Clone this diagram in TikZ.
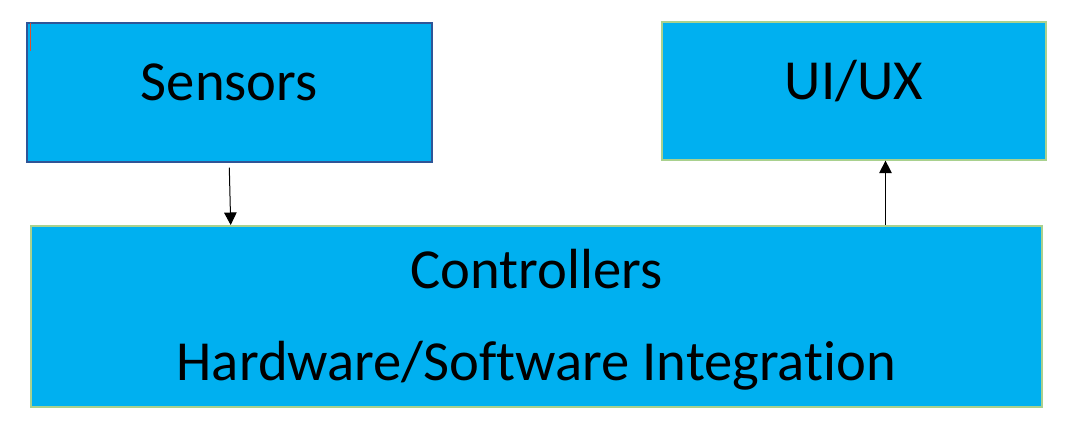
\documentclass[tikz,border=0pt]{standalone}
\usepackage{fontspec}
\setmainfont{Carlito}[Ligatures={NoCommon,NoContextual}]
\usetikzlibrary{arrows.meta,calc}
\definecolor{boxfill}{HTML}{00B0F0}
\definecolor{darkedge}{HTML}{2F5597}
\definecolor{greenedge}{HTML}{A9D18E}
\definecolor{cursorred}{HTML}{E0502A}
\tikzset{
  box/.style={rectangle, fill=boxfill, line width=1.6pt, inner sep=0pt, anchor=north west},
  lbl/.style={font=\fontsize{56.6}{62}\selectfont, text=black, inner sep=0pt, anchor=base},
  conn/.style={line width=1pt, black, -{Triangle[width=12.5pt,length=12.5pt]}}
}
\begin{document}
\begin{tikzpicture}[x=1pt,y=-1pt]
\useasboundingbox (0,0) rectangle (1077,429);
\fill[white] (0,0) rectangle (1077,429);
% boxes
\node[box, draw=darkedge, minimum width=405pt, minimum height=139pt] (sensors) at (26,22) {};
\node[box, draw=greenedge, minimum width=384pt, minimum height=138pt] (ui) at (661,21) {};
\node[box, draw=greenedge, minimum width=1011pt, minimum height=181pt] (ctrl) at (30,225) {};
% labels
\node[lbl] (sensorsT) at ($(sensors.north)+(0,78)$) {Sensors};
\node[lbl] (uiT) at ($(ui.north)+(0,78)$) {UI/UX};
\node[lbl] (ctrlA) at ($(ctrl.north)+(0,63)$) {Controllers};
\node[lbl] (ctrlB) at ($(ctrl.north)+(0,155)$) {Hardware/Software Integration};
% cursor mark
\coordinate (curA) at ($(sensors.north west)+(4.5,1)$);
\coordinate (curB) at ($(sensors.north west)+(4.5,29)$);
\draw[cursorred, line width=0.9pt] (curA) -- (curB);
% connectors
\coordinate (s0) at ($(sensors.south)+(0,5)$);
\coordinate (c0) at ($(ctrl.north west)+(200.7,0)$);
\draw[conn] (s0) -- (c0);
\coordinate (c1) at ($(ctrl.north west)+(855.5,0)$);
\draw[conn] (c1) -- (c1 |- ui.south);
\end{tikzpicture}
\end{document}
